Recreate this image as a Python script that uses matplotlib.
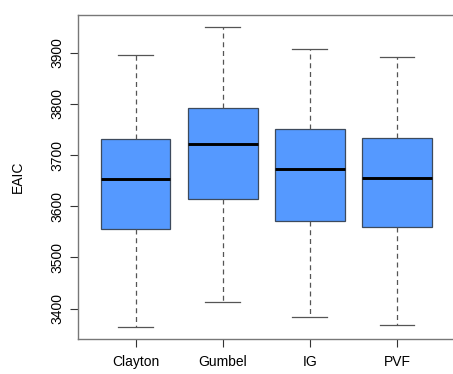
import matplotlib
matplotlib.use("Agg")
import matplotlib.pyplot as plt

# values
models = ["Clayton", "Gumbel", "IG", "PVF"]
whis_lo = [3364, 3413, 3384, 3367]
q1 = [3555, 3615, 3572, 3559]
medians = [3653, 3721, 3672, 3655]
q3 = [3731, 3793, 3752, 3734]
whis_hi = [3895, 3951, 3908, 3892]
yticks = [3400, 3500, 3600, 3700, 3800, 3900]

plt.rcParams["font.family"] = ["Liberation Sans", "DejaVu Sans"]

fig = plt.figure(figsize=(4.53, 3.74), dpi=100)
ax = fig.add_axes([0.1722, 0.0936, 0.831, 0.8671])

stats = []
for i, name in enumerate(models):
    stats.append(dict(label=name, med=medians[i], q1=q1[i], q3=q3[i],
                      whislo=whis_lo[i], whishi=whis_hi[i], fliers=[]))

ax.bxp(stats, positions=range(1, len(models) + 1), widths=0.8,
       patch_artist=True, showfliers=False,
       boxprops=dict(facecolor="#5599ff", edgecolor="#3d4a5c", linewidth=0.9),
       medianprops=dict(color="black", linewidth=2.1),
       whiskerprops=dict(color="#555555", linewidth=0.9, linestyle=(0, (4, 3))),
       capprops=dict(color="#555555", linewidth=0.9),
       capwidths=0.4)

ax.set_xlim(0.34, 4.66)
ax.set_ylim(3340.5, 3974.5)
ax.set_yticks(yticks)
ax.set_yticklabels([str(v) for v in yticks], rotation=90, va="center")
ax.set_ylabel("EAIC", fontsize=10, labelpad=19)

for s in ax.spines.values():
    s.set_color("#777777")
    s.set_linewidth(1.0)
ax.tick_params(axis="both", labelsize=10, colors="#333333", length=5.5, width=0.8)
ax.tick_params(axis="x", pad=6)
ax.tick_params(axis="y", pad=4)
for t in ax.get_xticklabels() + ax.get_yticklabels():
    t.set_color("black")

fig.savefig("out.png", dpi=100)
